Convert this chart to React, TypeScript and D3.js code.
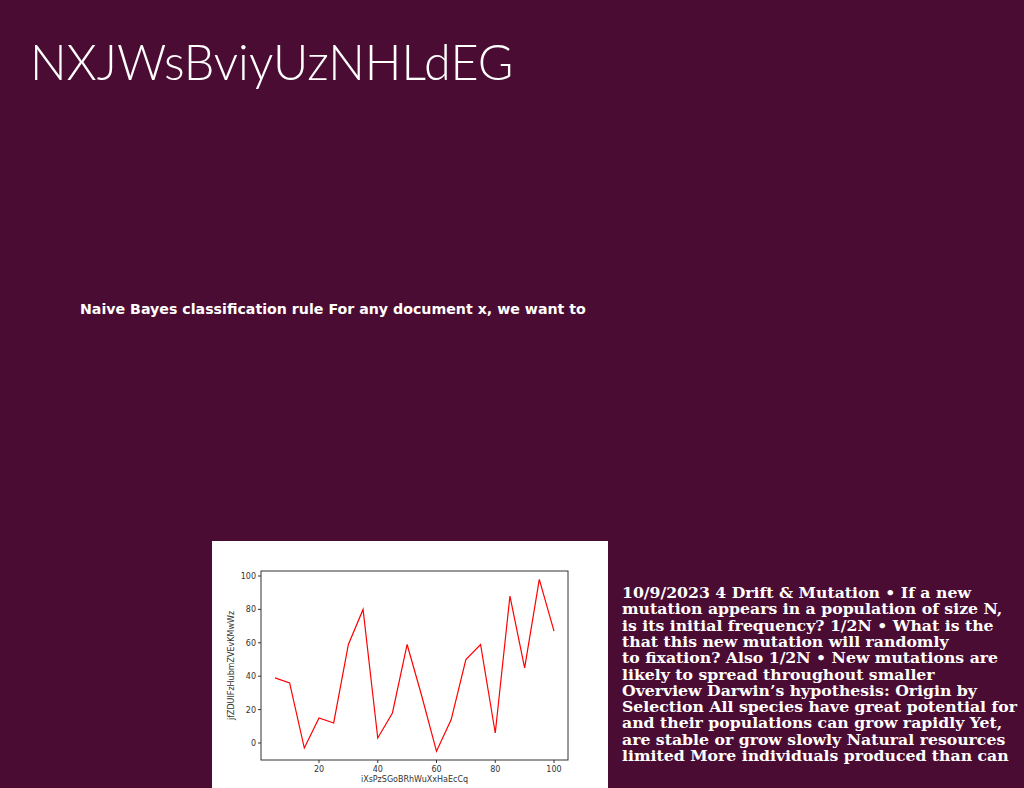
import * as d3 from 'd3';

const xs = [5, 10, 15, 20, 25, 30, 35, 40, 45, 50, 55, 60, 65, 70, 75, 80, 85, 90, 95, 100];
const ys = [39, 36, -3, 15, 12, 59, 80, 3, 18, 59, 28, -5, 14, 50, 59, 6, 88, 45, 98, 67];
const xTicks = [20, 40, 60, 80, 100];
const yTicks = [0, 20, 40, 60, 80, 100];
const sideLines = [
  '10/9/2023 4 Drift & Mutation • If a new',
  'mutation appears in a population of size N,',
  'is its initial frequency? 1/2N • What is the',
  'that this new mutation will randomly',
  'to fixation? Also 1/2N • New mutations are',
  'likely to spread throughout smaller',
  'Overview Darwin’s hypothesis: Origin by',
  'Selection All species have great potential for',
  'and their populations can grow rapidly Yet,',
  'are stable or grow slowly Natural resources',
  'limited More individuals produced than can',
];

export default function App() {
  const x = d3.scaleLinear().domain([20, 100]).range([319, 554]);
  const y = d3.scaleLinear().domain([0, 100]).range([743, 576]);
  const line = d3.line<number>().x((_, i) => x(xs[i])).y(d => y(d));
  const L = 261, R = 568, T = 571, B = 760;
  return (
    <svg width={1024} height={788} style={{ position: 'absolute', left: 0, top: 0 }}>
      <rect width={1024} height={788} fill="#4b0c33" />
      <text x={30} y={80} fill="#fff" fontFamily="Lato, 'Open Sans', sans-serif" fontWeight={300} fontSize={48.5}>NXJWsBviyUzNHLdEG</text>
      <text x={80} y={314} fill="#fff" fontFamily="'DejaVu Sans', sans-serif" fontWeight="bold" fontSize={14.2}>Naive Bayes classification rule For any document x, we want to</text>
      <rect x={212} y={541} width={396} height={247} fill="#fff" />
      <rect x={L} y={T} width={R - L} height={B - T} fill="none" stroke="#333" strokeWidth={1} />
      {xTicks.map(t => (
        <g key={'x' + t}>
          <line x1={x(t)} x2={x(t)} y1={B} y2={B + 3} stroke="#333" />
          <text x={x(t)} y={B + 12} fontSize={8} fill="#333" textAnchor="middle" fontFamily="'DejaVu Sans', sans-serif">{t}</text>
        </g>
      ))}
      {yTicks.map(t => (
        <g key={'y' + t}>
          <line x1={L - 3} x2={L} y1={y(t)} y2={y(t)} stroke="#333" />
          <text x={L - 5} y={y(t) + 3} fontSize={8} fill="#333" textAnchor="end" fontFamily="'DejaVu Sans', sans-serif">{t}</text>
        </g>
      ))}
      <text x={(L + R) / 2} y={782} fontSize={8} fill="#333" textAnchor="middle" fontFamily="'DejaVu Sans', sans-serif">iXsPzSGoBRhWuXxHaEcCq</text>
      <text transform={`translate(234,${(T + B) / 2}) rotate(-90)`} fontSize={8} fill="#333" textAnchor="middle" fontFamily="'DejaVu Sans', sans-serif">jfZDUIFzHubmZVEvKMwWz</text>
      <path d={line(ys) || ''} fill="none" stroke="red" strokeWidth={1.2} />
      {sideLines.map((s, i) => (
        <text key={i} x={622} y={598 + i * 16.3} fill="#fff" fontFamily="'DejaVu Serif', serif" fontWeight="bold" fontSize={15.7}>{s}</text>
      ))}
    </svg>
  );
}
